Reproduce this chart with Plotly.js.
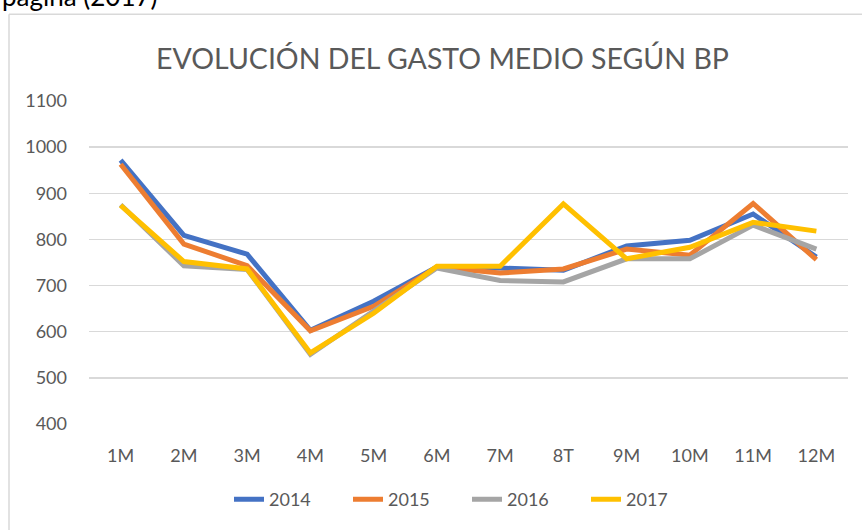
<!DOCTYPE html>
<html>
<head>
<meta charset="utf-8">
<script src="https://cdn.plot.ly/plotly-3.0.1.min.js"></script>
<style>html,body{margin:0;padding:0;background:#fff;} #chart{width:862px;height:530px;}</style>
</head>
<body>
<div id="chart"></div>
<script>
const categories = ["1M","2M","3M","4M","5M","6M","7M","8T","9M","10M","11M","12M"];
const seriesNames = ["2014","2015","2016","2017"];
const v2014 = [972, 809, 768, 603, 666, 740, 738, 733, 786, 798, 855, 762];
const v2015 = [963, 790, 743, 602, 655, 740, 727, 736, 779, 766, 878, 756];
const v2016 = [875, 743, 735, 551, 645, 738, 711, 708, 758, 758, 831, 779];
const v2017 = [874, 752, 736, 554, 640, 742, 742, 877, 758, 783, 837, 818];
const yTicks = [400, 500, 600, 700, 800, 900, 1000, 1100];
const colors = ["#4472C4", "#ED7D31", "#A5A5A5", "#FFC000"];

const W = 862, H = 530;
const L = 89, R = 14, T = 100.5, B = 103.3;
const pw = W - L - R, ph = H - T - B;
const px = x => (x - L) / pw;
const py = y => (H - B - y) / ph;

const allValues = [v2014, v2015, v2016, v2017];
const traces = allValues.map((vals, i) => ({
  type: "scatter", mode: "lines", name: seriesNames[i],
  x: categories, y: vals,
  line: {color: colors[i], width: 5, shape: "linear"}
}));

const font = "Lato, 'Noto Sans', sans-serif";
const layout = {
  width: W, height: H,
  margin: {l: L, r: R, t: T, b: B},
  paper_bgcolor: "#fff", plot_bgcolor: "#fff",
  font: {family: font, color: "#595959", size: 18},
  showlegend: true,
  legend: {orientation: "h", x: px(467), xanchor: "center", y: py(503), yanchor: "middle",
           font: {size: 18, color: "#595959"}, traceorder: "normal",
           entrywidth: 74, entrywidthmode: "pixels"},
  xaxis: {type: "category", range: [-0.5, 11.5], showgrid: false, zeroline: false,
          showline: false, ticks: "", ticklabelstandoff: 19, tickfont: {size: 18, color: "#595959"}},
  yaxis: {range: [400, 1100], tickvals: yTicks, showgrid: true, gridcolor: "#d9d9d9", gridwidth: 1.5,
          zeroline: false, showline: false, ticks: "", ticklabelstandoff: 21,
          tickfont: {size: 18, color: "#595959"}},
  annotations: [
    {xref: "paper", yref: "paper", x: px(442), y: py(57), xanchor: "center", yanchor: "middle",
     text: "EVOLUCIÓN DEL GASTO MEDIO SEGÚN BP", showarrow: false,
     font: {family: font, size: 28.5, color: "#595959"}},
    {xref: "paper", yref: "paper", x: px(0), y: py(-6), xanchor: "left", yanchor: "middle",
     text: "página (2017)", showarrow: false,
     font: {family: font, size: 26, color: "#000"}}
  ],
  shapes: [
    {type: "line", xref: "paper", yref: "paper", x0: px(9), x1: px(9), y0: py(13), y1: py(540),
     line: {color: "#d9d9d9", width: 1.5}},
    {type: "line", xref: "paper", yref: "paper", x0: px(9), x1: px(880), y0: py(13), y1: py(13),
     line: {color: "#d9d9d9", width: 1.5}}
  ]
};

Plotly.newPlot("chart", traces, layout, {staticPlot: true, displayModeBar: false});
</script>
</body>
</html>
